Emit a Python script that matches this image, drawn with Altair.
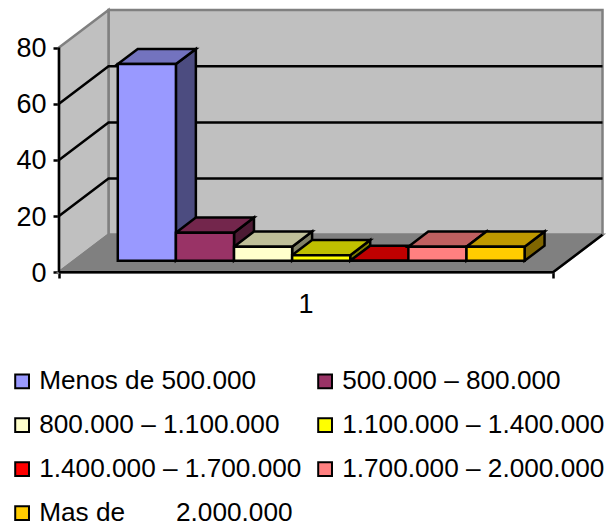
import altair as alt
import pandas as pd

# Income bands and their share, one bar per band in the single series "1"
bands = [
    "Menos de 500.000",
    "500.000 – 800.000",
    "800.000 – 1.100.000",
    "1.100.000 – 1.400.000",
    "1.400.000 – 1.700.000",
    "1.700.000 – 2.000.000",
    "Mas de\u00a0\u00a0\u00a0\u00a0\u00a0\u00a0\u00a02.000.000",
]
values = [70, 10, 5, 2, 0, 5, 5]
colors = ["#9999FF", "#993366", "#FFFFCC", "#FFFF00", "#FF0000", "#FF8080", "#FFCC00"]
ticks = [0, 20, 40, 60, 80]

FONT = "Liberation Sans"
GAP = 0.75            # empty space either side of the bar run, in bar widths
SPAN = len(values) + 2 * GAP
DEPTH_X = 0.852       # oblique shift of the full floor depth, in bar widths
DEPTH_Y = 13.35       # oblique shift of the full floor depth, in value units
BAR_NEAR, BAR_FAR = 0.307, 0.71
TOP = ticks[-1]
LINE = 2.5


def project(pos, value, depth):
    """Oblique projection of a point on the chart's box to plot units."""
    return pos + depth * DEPTH_X, value + depth * DEPTH_Y


def shade(hex_color, factor):
    rgb = [int(hex_color[i:i + 2], 16) for i in (1, 3, 5)]
    return "#" + "".join(f"{round(c * factor):02X}" for c in rgb)


sides, tops, fronts = [], [], []
for i, (band, v, c) in enumerate(zip(bands, values, colors)):
    left, right = GAP + i, GAP + i + 1
    for d in (BAR_NEAR, BAR_FAR):
        x, y_top = project(right, v, d)
        _, y_base = project(right, 0, d)
        sides.append(dict(bar=i, x=x, y=y_top, y2=y_base, fill=shade(c, 0.5)))
        x_a, y_a = project(left, v, d)
        x_b, _ = project(right, v, d)
        tops.append(dict(bar=i, x=x_a, x2=x_b, y=y_a, fill=shade(c, 0.75)))
    x_a, y_a = project(left, v, BAR_NEAR)
    x_b, y_b = project(right, 0, BAR_NEAR)
    fronts.append(dict(band=band, x=x_a, x2=x_b, y=y_a, y2=y_b))

x_scale = alt.Scale(domain=[0, SPAN + DEPTH_X], range=[0, 543.5], nice=False, zero=False)
y_scale = alt.Scale(domain=[0, TOP + DEPTH_Y], range=[262.3, 0], nice=False, zero=False)

# The value axis and the two end ticks of the category axis, shared by every layer
x_axis = alt.Axis(
    values=[0, SPAN], grid=False, domain=False, labels=False,
    tickColor="black", tickSize=6, tickWidth=LINE,
)
y_axis = alt.Axis(
    values=ticks, grid=False, domain=False, tickColor="black", tickSize=6, tickWidth=LINE,
    labelFont=FONT, labelFontSize=27, labelColor="black", labelPadding=7, labelOffset=1,
)
X = alt.X("x:Q", scale=x_scale, title=None, axis=x_axis)
Y = alt.Y("y:Q", scale=y_scale, title=None, axis=y_axis)
WALL = "#C0C0C0"
FLOOR = "#808080"
EDGE = "#808080"

# Walls and floor of the box
back_x0, back_y0 = project(0, 0, 1)
back_x1, back_y1 = project(SPAN, TOP, 1)
back = alt.Chart(pd.DataFrame([dict(x=back_x0, x2=back_x1, y=back_y1, y2=back_y0)])).mark_rect(
    fill=WALL, stroke=EDGE, strokeWidth=LINE
).encode(X, x2="x2:Q", y=Y, y2="y2:Q")

left_wall = alt.Chart(pd.DataFrame([
    dict(x=0, y=TOP, y2=0),
    dict(x=back_x0, y=back_y1, y2=back_y0),
])).mark_area(fill=WALL, stroke=EDGE, strokeWidth=LINE, interpolate="linear", opacity=1).encode(X, y=Y, y2="y2:Q")

floor = alt.Chart(pd.DataFrame([
    dict(x=0, x2=SPAN, y=0),
    dict(x=back_x0, x2=back_x1, y=back_y0),
])).mark_area(fill=FLOOR, stroke=EDGE, strokeWidth=LINE, orient="horizontal", interpolate="linear", opacity=1).encode(
    X, x2="x2:Q", y=Y
)

# Black grid and axis lines that run along the walls and the floor's edges
edges = []
for t in ticks[1:-1]:
    p = project(0, t, 1)
    q = project(SPAN, t, 1)
    edges += [
        dict(line=f"g{t}", o=0, x=0, y=t),
        dict(line=f"g{t}", o=1, x=p[0], y=p[1]),
        dict(line=f"g{t}", o=2, x=q[0], y=q[1]),
    ]
r = project(SPAN, 0, 1)
edges += [
    dict(line="axis", o=0, x=0, y=0),
    dict(line="axis", o=1, x=0, y=TOP),
    dict(line="front", o=0, x=0, y=0),
    dict(line="front", o=1, x=SPAN, y=0),
    dict(line="front", o=2, x=r[0], y=r[1]),
]
lines = alt.Chart(pd.DataFrame(edges)).mark_line(color="black", strokeWidth=LINE).encode(
    X, Y, detail="line:N", order="o:Q"
)

# Bars: sides and tops first so each bar overlaps the one on its left, fronts last
side_layer = alt.Chart(pd.DataFrame(sides)).mark_area(
    stroke="black", strokeWidth=LINE, interpolate="linear", opacity=1
).encode(X, y=Y, y2="y2:Q", detail="bar:N", fill=alt.Fill("fill:N", scale=None))

top_layer = alt.Chart(pd.DataFrame(tops)).mark_area(
    stroke="black", strokeWidth=LINE, orient="horizontal", interpolate="linear", opacity=1
).encode(X, x2="x2:Q", y=Y, detail="bar:N", fill=alt.Fill("fill:N", scale=None))

front_layer = alt.Chart(pd.DataFrame(fronts)).mark_rect(stroke="black", strokeWidth=LINE).encode(
    X, x2="x2:Q", y=Y, y2="y2:Q",
    color=alt.Color(
        "band:N",
        scale=alt.Scale(domain=bands, range=colors),
        sort=None,
        legend=alt.Legend(
            title=None, orient="none", legendX=-50, legendY=358, direction="horizontal", columns=2,
            symbolType="square", symbolSize=190, symbolStrokeColor="black", symbolStrokeWidth=2,
            symbolOpacity=1, labelFont=FONT, labelFontSize=26.2, labelColor="black", labelLimit=400,
            labelOffset=4, rowPadding=17, columnPadding=10, padding=0,
        ),
    ),
)

category_label = alt.Chart(pd.DataFrame({"x": [SPAN / 2], "y": [0], "label": ["1"]})).mark_text(
    font=FONT, fontSize=27, color="black", baseline="middle", align="center", dy=33
).encode(X, Y, text="label:N")

chart = alt.layer(
    back, left_wall, floor, lines, side_layer, top_layer, front_layer, category_label
).properties(
    width=549,
    height=262,
    padding={"left": 59, "top": 10, "right": 0, "bottom": 257},
    autosize=alt.AutoSizeParams(type="none"),
).configure_view(stroke=None)

chart.save("out.html", embed_options={"renderer": "svg", "actions": False})
